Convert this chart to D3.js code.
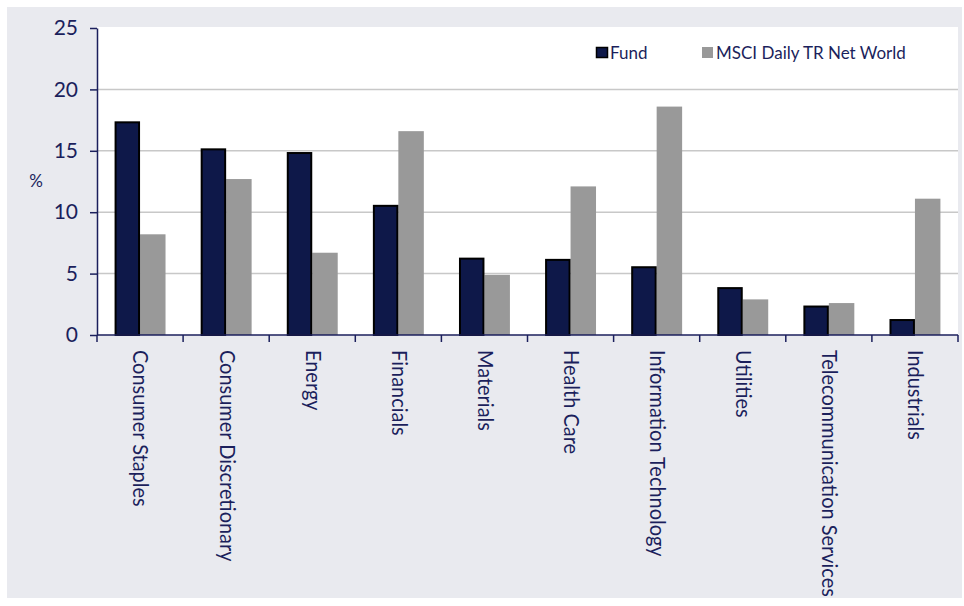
<!DOCTYPE html>
<html>
<head>
<meta charset="utf-8">
<script src="https://cdn.jsdelivr.net/npm/d3@7"></script>
<style>
  body { margin: 0; background: #ffffff; }
  text { font-family: Lato, "Open Sans", sans-serif; fill: #1b1f5c; }
</style>
</head>
<body>
<div id="chart"></div>
<script>
// chart data
var categories = ["Consumer Staples", "Consumer Discretionary", "Energy", "Financials", "Materials",
                  "Health Care", "Information Technology", "Utilities", "Telecommunication Services", "Industrials"];
var seriesNames = ["Fund", "MSCI Daily TR Net World"];
var fundValues = [17.4, 15.2, 14.9, 10.6, 6.3, 6.2, 5.6, 3.9, 2.4, 1.3];
var msciValues = [8.2, 12.7, 6.7, 16.6, 4.9, 12.1, 18.6, 2.9, 2.6, 11.1];
var yTicks = [0, 5, 10, 15, 20, 25];

// dimensions
var width = 964, height = 606;
var plot = {left: 97, right: 958, top: 28, bottom: 335};
var colors = {"Fund": "#0e1849", "MSCI Daily TR Net World": "#999999"};

var svg = d3.select("#chart")
  .append("svg")
  .attr("width", width)
  .attr("height", height);

// outer grey panel + white plot area
svg.append("rect")
  .attr("x", 7).attr("y", 7)
  .attr("width", 955).attr("height", 591)
  .attr("fill", "#e9eaef");

svg.append("rect")
  .attr("x", plot.left).attr("y", plot.top - 1)
  .attr("width", plot.right - plot.left).attr("height", plot.bottom - plot.top + 1)
  .attr("fill", "#ffffff");

// scales
var x = d3.scaleBand().domain(categories).range([plot.left, plot.right]).padding(0);
var xInner = d3.scaleBand().domain(seriesNames).range([0, x.bandwidth()]).paddingInner(0).paddingOuter(0.69);
var y = d3.scaleLinear().domain([0, 25]).range([plot.bottom, plot.top]);

// gridlines
svg.append("g")
  .selectAll("line")
  .data(yTicks.filter(d => d > 0 && d < 25))
  .enter().append("line")
  .attr("x1", plot.left).attr("x2", plot.right)
  .attr("y1", d => y(d)).attr("y2", d => y(d))
  .attr("stroke", "#c8c8c8")
  .attr("stroke-width", 1.5);

// bars
var rows = categories.map((c, i) => ({cat: c, values: [fundValues[i], msciValues[i]]}));

var groups = svg.append("g")
  .selectAll("g")
  .data(rows)
  .enter().append("g")
  .attr("transform", d => `translate(${x(d.cat)},0)`);

// msci first so the fund outline sits on top
groups.append("rect")
  .attr("x", xInner(seriesNames[1]))
  .attr("y", d => y(d.values[1]))
  .attr("width", xInner.bandwidth())
  .attr("height", d => y(0) - y(d.values[1]))
  .attr("fill", colors[seriesNames[1]]);

groups.append("rect")
  .attr("x", xInner(seriesNames[0]) + 1)
  .attr("y", d => y(d.values[0]) + 1)
  .attr("width", xInner.bandwidth() - 2)
  .attr("height", d => y(0) - y(d.values[0]) - 1)
  .attr("fill", colors[seriesNames[0]])
  .attr("stroke", "#000000")
  .attr("stroke-width", 2);

// y axis
var leftAxis = d3.axisLeft(y).tickValues(yTicks).tickSize(7).tickSizeOuter(0).tickPadding(12);
var yAxis = svg.append("g")
  .attr("transform", `translate(${plot.left},0)`)
  .call(leftAxis);
yAxis.select(".domain").attr("stroke", "#1b1f5c").attr("stroke-width", 1.5);
yAxis.selectAll(".tick line").attr("stroke", "#1b1f5c").attr("stroke-width", 1.5);
yAxis.selectAll(".tick text")
  .style("font-family", "Lato, sans-serif")
  .style("font-size", "21px")
  .attr("fill", "#1b1f5c");

// % label
svg.append("text")
  .attr("x", 36).attr("y", 187)
  .attr("text-anchor", "middle")
  .style("font-size", "17px")
  .text("%");

// x axis line and boundary ticks
svg.append("line")
  .attr("x1", plot.left).attr("x2", plot.right)
  .attr("y1", plot.bottom).attr("y2", plot.bottom)
  .attr("stroke", "#1b1f5c").attr("stroke-width", 1.5);

var boundaries = categories.map(c => x(c)).concat([plot.right]);
svg.append("g")
  .selectAll("line")
  .data(boundaries)
  .enter().append("line")
  .attr("x1", d => d).attr("x2", d => d)
  .attr("y1", plot.bottom).attr("y2", plot.bottom + 7)
  .attr("stroke", "#1b1f5c").attr("stroke-width", 1.5);

// category labels, rotated
svg.append("g")
  .selectAll("text")
  .data(categories)
  .enter().append("text")
  .attr("transform", d => `translate(${x(d) + x.bandwidth() / 2 + 1},350) rotate(90) scale(0.95,1)`)
  .attr("text-anchor", "start")
  .attr("dy", "0.36em")
  .style("font-size", "21px")
  .text(d => d);

// legend
var legendX = [596, 702];
var legend = svg.append("g")
  .selectAll("g")
  .data(seriesNames)
  .enter().append("g")
  .attr("transform", (d, i) => `translate(${legendX[i]},47)`);

legend.append("rect")
  .attr("x", (d, i) => i === 0 ? 0.5 : 0)
  .attr("y", (d, i) => i === 0 ? 0.5 : 0)
  .attr("width", 11)
  .attr("height", (d, i) => i === 0 ? 10 : 11)
  .attr("fill", d => colors[d])
  .attr("stroke", (d, i) => i === 0 ? "#000" : "none")
  .attr("stroke-width", 1.5);

legend.append("text")
  .attr("x", 14)
  .attr("y", 11.5)
  .style("font-size", "17px")
  .text(d => d);
</script>
</body>
</html>
